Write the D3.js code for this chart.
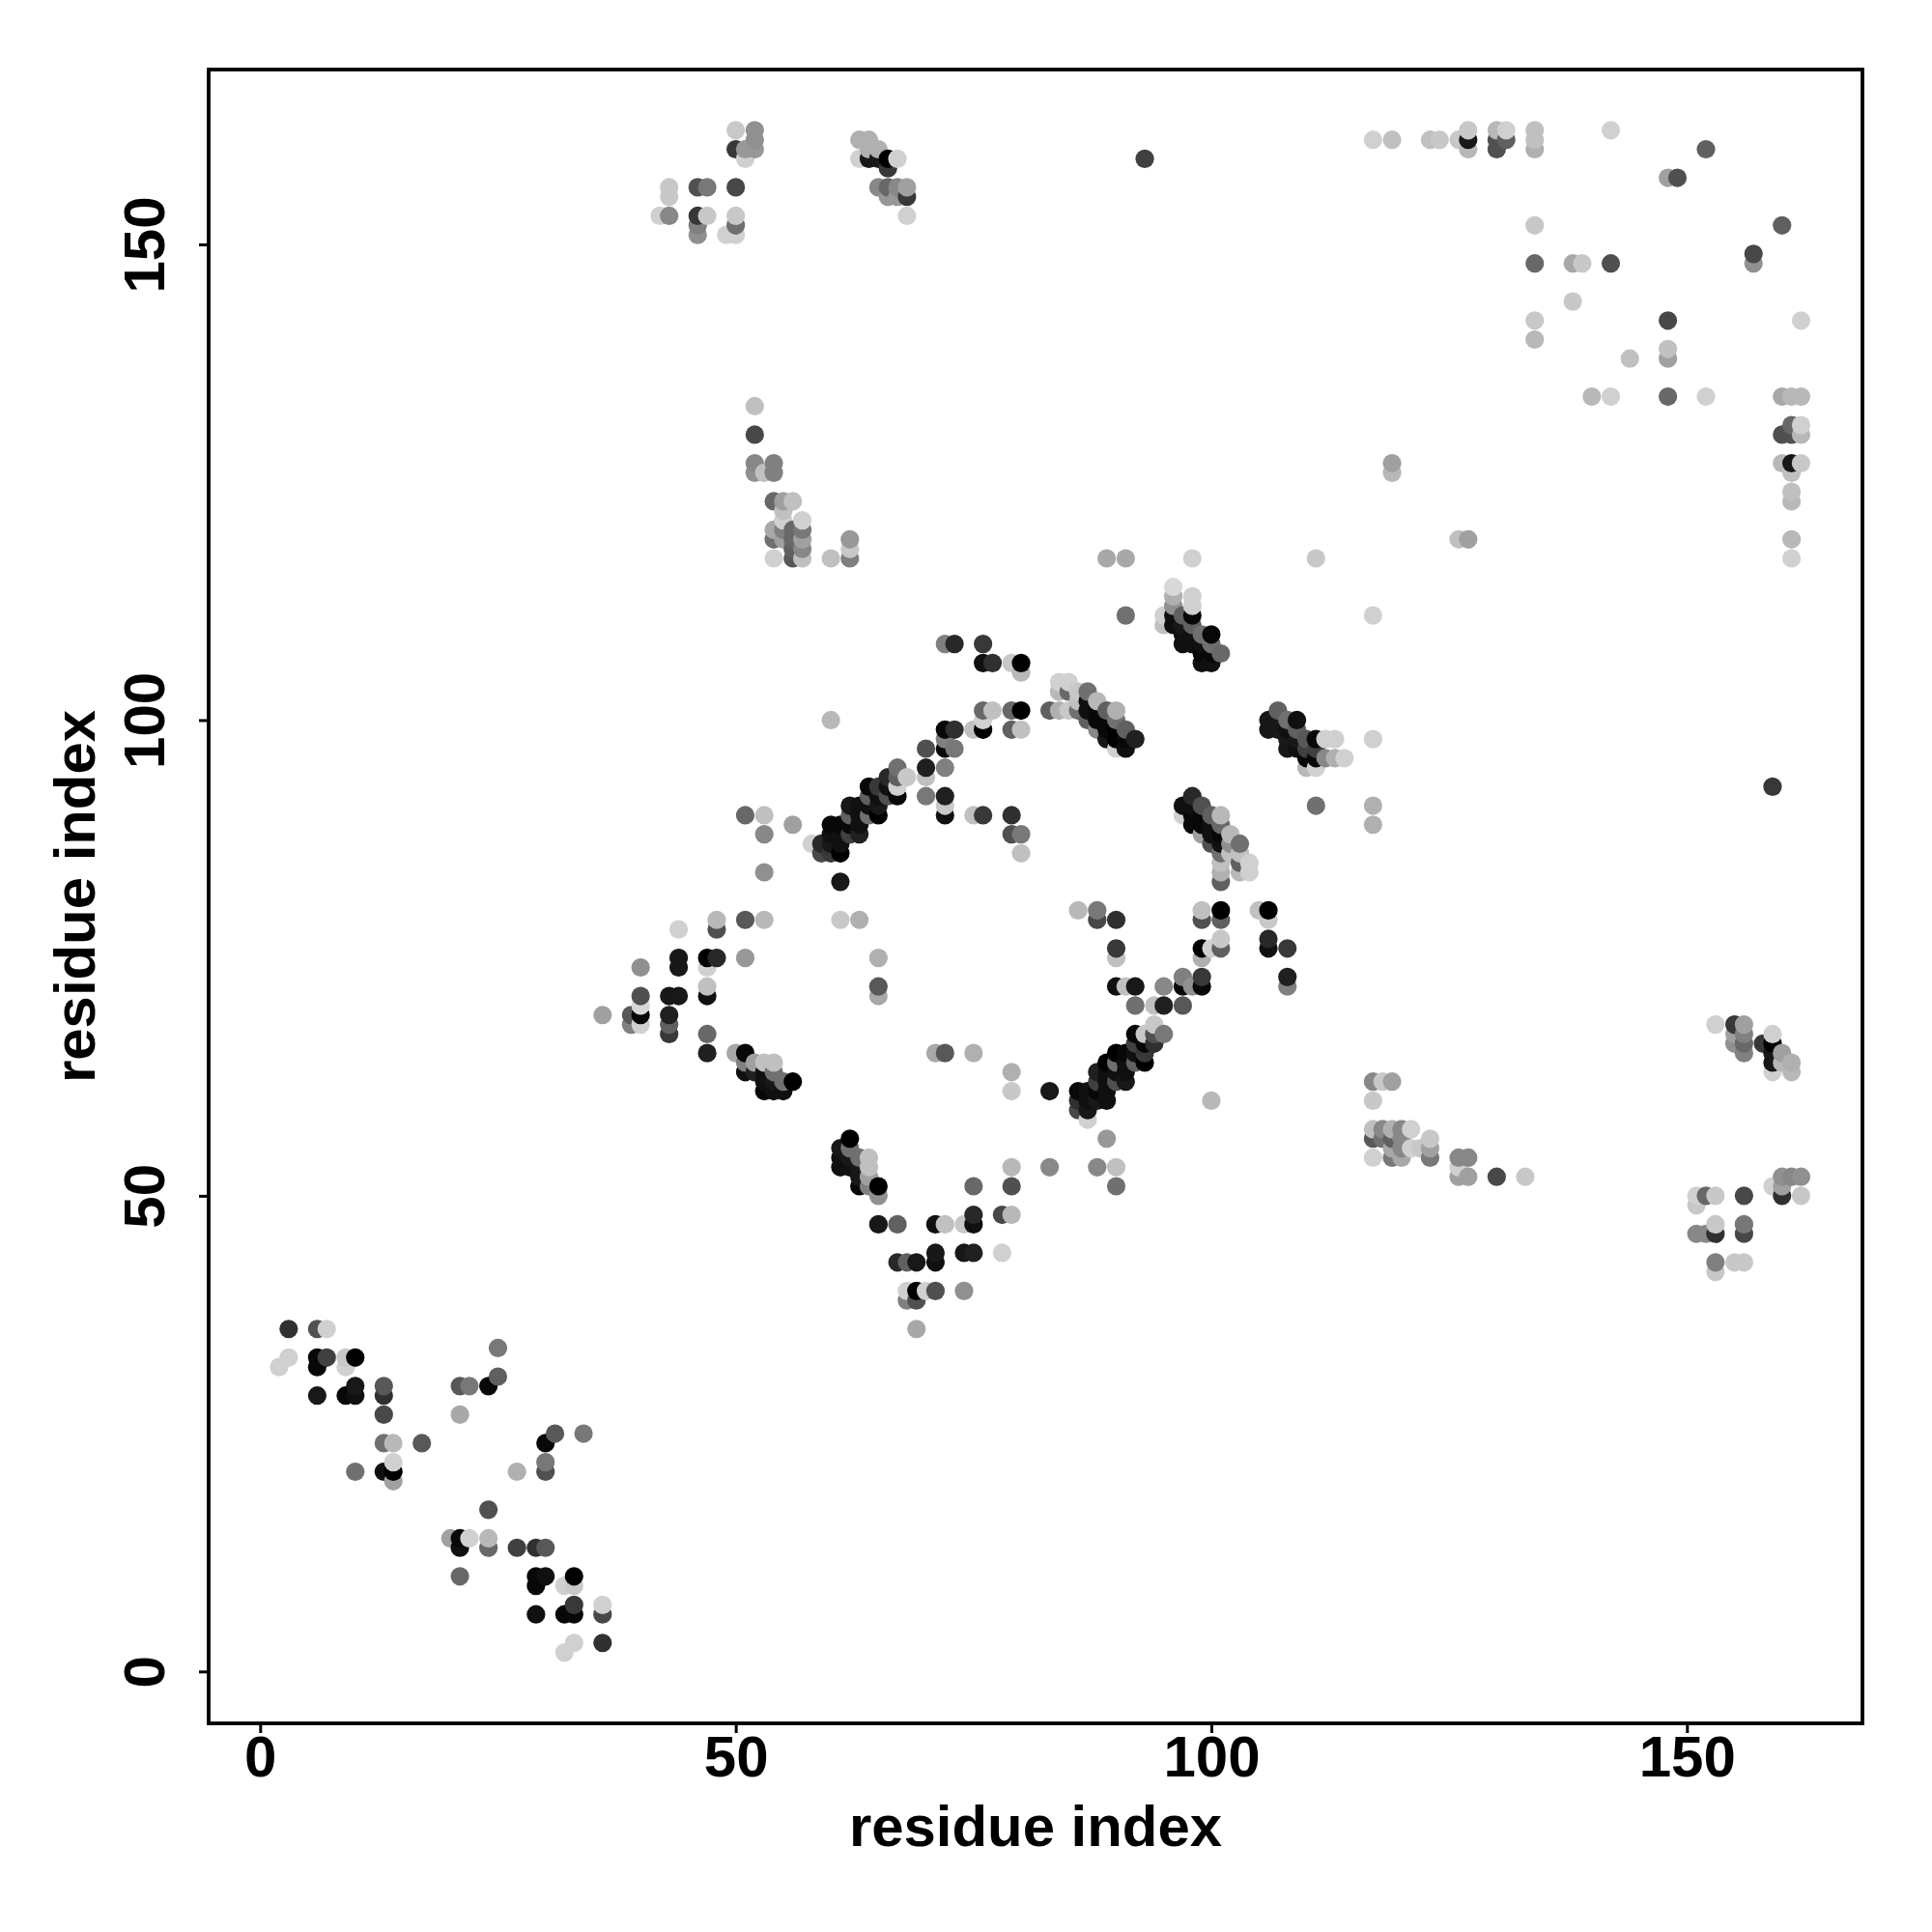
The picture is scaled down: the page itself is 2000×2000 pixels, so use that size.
<!DOCTYPE html>
<html><head><meta charset="utf-8">
<script src="https://cdn.jsdelivr.net/npm/d3@7"></script>
<style>html,body{margin:0;padding:0;background:#fff}svg{display:block}</style>
</head><body><div id="chart"></div>
<script>
const tickLabels = [0, 50, 100, 150];
const axisTitle = "residue index";
// each contact: [residue x, residue y, shade 0 (black) .. 255 (white)]
const nTerminal = [
[3,36,0x30],[6,36,0x50],[7,36,0xd0],[3,33,0xd0],[2,32,0xd0],[6,33,0x08],[6,32,0x08],[7,33,0x40],[9,33,0xc8],[9,32,0xd0],[10,33,0x00],
[6,29,0x18],[9,29,0x08],[10,30,0x18],[10,29,0x10],[13,30,0x58],[13,29,0x30],[13,27,0x48],[13,24,0x70],[14,24,0xb8],[17,24,0x58],
[10,21,0x70],[13,21,0x10],[14,21,0x00],[14,22,0xd0],[14,20,0xa0],[25,34,0x78],[25,31,0x60],[24,30,0x08],[21,30,0x58],[22,30,0x78],[21,27,0xa8],
[31,25,0x58],[30,24,0x08],[34,25,0x78],[30,22,0x78],[30,21,0x50],[27,21,0xb0],[24,17,0x50],
[20,14,0xa0],[21,14,0x08],[21,13,0x10],[22,14,0xd0],[24,14,0xb8],[24,13,0x68],[27,13,0x40],[29,13,0x30],[30,13,0x58],[21,10,0x68],
[29,10,0x08],[30,10,0x10],[29,9,0x08],[32,9,0xd0],[33,9,0xc8],[33,10,0x00],[29,6,0x10],[32,6,0x08],[33,6,0x08],[33,7,0x38],[36,6,0x48],[36,7,0xd0],
[33,3,0xd0],[32,2,0xd0],[36,3,0x30]];
const leftArc = [
[48,79,0xb8],[48,78,0x50],[51,79,0x58],[53,79,0xb8],[61,79,0xc8],[63,79,0xb0],[44,78,0xd0],[44,75,0x18],[44,74,0x18],[47,75,0x00],[48,75,0x28],[47,74,0xd0],[51,75,0x98],[65,75,0xb0],
[40,74,0x90],[40,71,0x50],[43,71,0x18],[44,71,0x18],[47,72,0xc0],[47,71,0x10],[65,72,0x58],[65,71,0xa8],[40,70,0xd8],[36,69,0xa0],[39,69,0x58],[40,69,0x08],[39,68,0x80],[40,68,0xd0],
[43,69,0x20],[43,68,0x60],[43,67,0x38],[47,67,0x68],[47,65,0x20],[50,65,0xa8],[51,65,0x08],[51,64,0x80],[51,63,0x10],[52,64,0xa0],[52,63,0x20],
[53,64,0xc0],[53,63,0x10],[53,62,0x10],[53,61,0x08],[54,64,0xc0],[54,63,0x70],[54,62,0x18],[54,61,0x10],[55,62,0x70],[55,61,0x10],[56,62,0x00],
[71,65,0xa8],[72,65,0x58],[75,65,0xb0]];
const lowerArc = [
[62,56,0x00],[61,55,0x18],[61,54,0x10],[61,53,0x10],[62,55,0x70],[62,54,0x18],[62,53,0x10],[63,54,0x70],[63,53,0x18],[63,52,0x18],[63,51,0x08],
[64,54,0xc0],[64,53,0xc0],[64,52,0xa0],[64,51,0x80],[65,51,0x00],[65,50,0x90],[65,47,0x18],[67,47,0x60],[71,47,0x10],[72,47,0xc0],[74,47,0xc8],[75,48,0x28],[75,47,0x10],[75,51,0x68],
[67,43,0x28],[68,43,0x60],[69,43,0x18],[71,44,0x18],[71,43,0x10],[74,44,0x18],[75,44,0x20],[68,40,0xd0],[69,40,0x00],[70,40,0xd0],[71,40,0x50],[74,40,0x90],[68,39,0x80],[69,39,0x50],[69,36,0xa8],
[78,44,0xd0],[78,48,0x48],[79,48,0xb8],[79,51,0x50],[79,53,0xb8],[83,53,0x88],[88,53,0x88],[90,53,0xc0],[90,51,0x70],[89,56,0x98]];
const upperArc = [
[72,108,0x80],[73,108,0x28],[76,108,0x38],[76,106,0x10],[77,106,0x30],[79,106,0xc8],[80,106,0x00],[80,105,0xb8],[84,104,0xd0],[85,104,0xd0],[84,103,0xb8],[85,103,0x68],[86,103,0xc8],[87,103,0x70],[88,102,0xb8],
[86,102,0xc0],[76,101,0x68],[77,101,0xc0],[79,101,0x68],[80,101,0x00],[83,101,0x60],[84,101,0xb0],[85,101,0xc8],[86,101,0x70],[89,101,0x60],[90,101,0xb0],
[87,102,0x10],[87,101,0x10],[87,100,0x60],[88,101,0x08],[88,100,0x08],[88,99,0x88],[89,100,0x08],[89,99,0x08],[89,98,0x18],[90,100,0x70],[90,99,0x00],[90,98,0x00],[91,99,0x60],[91,98,0x08],[91,97,0x10],[92,98,0x20],[90,97,0xd0],
[60,100,0xb8],[72,99,0x08],[73,99,0x30],[75,99,0xc0],[76,99,0x00],[76,100,0xd0],[79,99,0x60],[80,99,0xc0],[72,98,0x80],[72,97,0x08],[73,97,0x78],[70,97,0x50],[70,95,0x20],[72,95,0x80],[70,94,0xc0],[70,92,0x78],[72,92,0x20],[72,91,0xc8],[72,90,0x10],[75,90,0xc0],[76,90,0x38],[79,90,0x30],[79,88,0x50],[80,88,0x78],[80,86,0xc0],
[56,89,0xa0],[58,87,0xd0],[51,90,0x68],[53,90,0xc0],[53,88,0x88],[53,84,0x90],
[59,87,0x28],[59,86,0x48],[60,89,0x08],[60,88,0x10],[60,87,0x18],[60,86,0x38],[61,89,0x08],[61,88,0x10],[61,87,0x10],[61,86,0x00],
[62,91,0x18],[62,90,0x60],[62,89,0x08],[62,88,0x40],[63,91,0x10],[63,90,0x10],[63,89,0x10],[63,88,0x20],
[64,93,0x08],[64,92,0x60],[64,91,0x10],[64,90,0x70],[65,93,0x38],[65,92,0x10],[65,91,0x18],[65,90,0x00],
[66,94,0x28],[66,93,0x10],[66,92,0x50],[67,95,0x70],[67,94,0x60],[67,93,0xd0],[67,92,0x08],[68,94,0xc8],[61,83,0x18]];
const rightArc = [
[86,80,0xb8],[88,80,0x78],[88,79,0x48],[90,79,0x30],[99,80,0xc0],[99,79,0x50],[101,80,0x00],[101,79,0x60],[105,80,0xc0],[106,80,0x00],[106,79,0xc8],
[90,76,0x38],[90,75,0xc0],[99,76,0x00],[99,75,0xb0],[100,76,0xd0],[101,76,0x60],[101,77,0xc8],[106,77,0x28],[106,76,0x10],[108,76,0x38],
[97,73,0x80],[99,73,0x38],[97,72,0x08],[98,72,0x90],[99,72,0x08],[108,73,0x20],[108,72,0x80],[90,72,0x10],[91,72,0xc0],[92,72,0x18],[95,72,0x88],
[92,70,0x70],[94,70,0xc0],[95,70,0x20],[97,70,0x58],[94,68,0xc8],[95,67,0x78],[94,67,0x50],[93,67,0xc8],[92,67,0x08],
[86,61,0x08],[86,60,0x30],[86,59,0x48],[87,61,0x10],[87,60,0x10],[87,59,0x18],[87,58,0xd0],[88,63,0x20],[88,62,0x40],[88,61,0x08],[88,60,0x18],
[89,64,0x00],[89,63,0x10],[89,62,0x10],[89,61,0x10],[89,60,0x10],[90,65,0x00],[90,64,0x70],[90,63,0x10],[90,62,0x50],
[91,65,0x08],[91,64,0x10],[91,63,0x10],[91,62,0x18],[92,66,0x40],[92,65,0x10],[92,64,0x60],[93,66,0x08],[93,65,0x38],[93,64,0x00],[94,66,0x30],
[79,63,0xb0],[79,61,0xc8],[83,61,0x18],[100,60,0xb8]];
const helixBands = [
[89,117,0xa8],[91,117,0xa8],[98,117,0xd0],[111,117,0xc8],[91,111,0x70],[117,111,0xd0],
[96,114,0xd8],[96,113,0xb0],[96,112,0x90],[95,111,0xd0],[95,110,0xc0],[98,113,0xd0],[98,112,0xd0],[98,111,0x08],[96,111,0x10],[96,110,0x10],
[97,111,0x60],[97,110,0x18],[97,109,0x10],[97,108,0x10],[98,110,0x60],[98,109,0x10],[98,108,0x10],[99,109,0x70],[99,108,0x10],[99,107,0x08],[99,106,0x10],[100,109,0x08],[100,108,0x70],[100,107,0x08],[100,106,0x10],[101,107,0x68],
[98,92,0x28],[97,91,0x10],[98,91,0x10],[99,91,0x50],[97,90,0xd0],[98,90,0x08],[99,90,0x08],[100,90,0x60],[101,90,0xb8],[98,89,0x08],[99,89,0x08],[100,89,0x10],[101,89,0x68],
[99,88,0xa0],[100,88,0x10],[101,88,0x08],[102,88,0xb8],[100,87,0x50],[101,87,0x10],[102,87,0x90],[103,87,0x70],[101,86,0x70],[102,86,0xc0],[103,86,0xc0],[104,85,0xd0],[101,85,0xc0],[101,84,0xb0],[101,83,0x60],[103,85,0x60],[103,84,0xb8],[104,84,0xd0],
[107,101,0x60],[106,100,0x18],[106,99,0x18],[107,100,0x18],[107,99,0x18],[108,100,0x70],[108,99,0x10],[108,98,0x18],[108,97,0x18],[109,100,0x10],[109,99,0x60],[109,98,0x18],[109,97,0x10],
[110,98,0x58],[110,97,0x40],[110,96,0x08],[110,95,0xb8],[111,98,0x08],[111,97,0x40],[111,96,0x08],[111,95,0xd0],[112,98,0xd0],[112,96,0x88],[113,98,0xd0],[113,96,0xb0],[114,96,0xd0],
[117,98,0xd0],[111,91,0x70],[117,91,0xb0],[117,89,0xb0]];
const topMiddle = [
[50,162,0xc8],[52,162,0x90],[52,161,0x90],[50,160,0x38],[51,160,0x98],[52,160,0x98],[51,159,0xd0],
[63,161,0xb0],[64,161,0xb0],[63,159,0xd0],[64,159,0x18],[64,160,0xb0],[65,160,0xb0],[65,159,0x18],[66,159,0x00],[67,159,0xd0],[66,158,0x38],
[65,156,0x88],[66,156,0x68],[67,156,0x88],[68,156,0xa0],[68,155,0x38],[66,155,0x98],[67,155,0x98],[68,153,0xd0],
[43,156,0xc8],[43,155,0xc8],[46,156,0x50],[47,156,0x78],[50,156,0x48],[42,153,0xd0],[43,153,0x88],[46,153,0x38],[47,153,0xc8],[46,152,0x80],[46,151,0x90],[50,153,0xc8],[50,152,0x70],[49,151,0xd0],[50,151,0xd0],[93,159,0x40],
[52,133,0xc0],[52,130,0x48],[52,127,0x88],[52,126,0x90],[53,126,0xc0],[54,127,0x80],[54,126,0x80],[54,123,0x68],[55,123,0xa0],[56,123,0xc0],[55,122,0xc0],[55,121,0xd0],[57,121,0xd0],
[54,120,0xa8],[54,119,0x70],[55,120,0x80],[55,119,0xa0],[56,120,0x68],[56,119,0x68],[56,118,0x60],[56,117,0x58],[57,120,0x78],[57,119,0xa0],[57,118,0x88],[57,117,0xc0],[54,117,0xd0],[60,117,0xc0],[62,119,0x98],[62,118,0xc8],[62,117,0x80]];
const topRight = [
[117,161,0xd0],[119,161,0xc0],[123,161,0xc0],[124,161,0xc8],[126,161,0xc8],[127,162,0xc8],[127,161,0x18],[127,160,0xb8],[130,162,0xb8],[131,162,0xd0],[130,161,0x50],[131,161,0x60],[130,160,0x50],[134,162,0xc0],[134,161,0xc0],[134,160,0xb0],
[142,162,0xd0],[152,160,0x60],[148,157,0xa0],[149,157,0x50],[134,152,0xc8],[160,152,0x60],[157,149,0x48],[157,148,0x90],[134,148,0x68],[138,148,0xa8],[139,148,0xc8],[142,148,0x50],
[138,144,0xc8],[134,142,0xc8],[148,142,0x48],[162,142,0xd0],[134,140,0xb8],[144,138,0xc0],[148,139,0xc0],[148,138,0xa0],
[140,134,0xb8],[142,134,0xd0],[148,134,0x68],[152,134,0xd0],[160,134,0xa8],[161,134,0xb8],[162,134,0xb8],[161,131,0x68],[162,131,0xd0],[160,130,0x50],[161,130,0x50],[162,130,0xb8],
[160,127,0xb8],[161,127,0x18],[162,127,0xc8],[161,126,0xc0],[161,124,0xc0],[161,123,0xb8],[161,119,0xb8],[161,117,0xd0],[119,127,0xa0],[119,126,0xb8],[126,119,0xc0],[127,119,0xa0],[159,93,0x38]];
const lowerRight = [
[153,68,0xd0],[155,68,0x38],[156,68,0xa0],[155,67,0xa0],[155,66,0x90],[156,67,0x80],[156,66,0x68],[156,65,0x80],[158,66,0x38],[159,66,0x00],[159,67,0xd0],[159,65,0x18],[159,64,0x18],[159,63,0xd0],[160,65,0xa0],[160,64,0xb8],[161,64,0xb0],[161,63,0xb8],
[117,62,0x88],[118,62,0xc8],[119,62,0xa0],[117,60,0xc8],[117,57,0xc0],[118,57,0x88],[119,57,0xb0],[120,57,0x88],[121,57,0xd0],[117,56,0x58],[118,56,0x70],[119,56,0x60],[120,56,0x88],[121,55,0xd0],[120,55,0x88],[119,55,0xa8],
[123,56,0xc8],[122,55,0xc8],[123,55,0xa0],[123,54,0x78],[117,54,0xd0],[119,54,0x78],[120,54,0xa8],[126,54,0x88],[127,54,0x88],[126,53,0xd0],[126,52,0xa0],[127,52,0xa0],[130,52,0x48],[133,52,0xc8],
[160,52,0x90],[161,52,0x88],[162,52,0x90],[159,51,0xd0],[160,51,0xa0],[160,50,0x30],[162,50,0xc8],[151,50,0xd0],[152,50,0x68],[153,50,0xc8],[151,49,0xc8],[156,50,0x48],
[153,47,0xc8],[156,47,0x78],[151,46,0x88],[152,46,0x88],[153,46,0x30],[156,46,0x48],[153,43,0x80],[153,42,0xc8],[155,43,0xc8],[156,43,0xc8]];

const contacts = [].concat(nTerminal,leftArc,lowerArc,upperArc,rightArc,helixBands,topMiddle,topRight,lowerRight)
  .slice().sort((a,b)=>d3.ascending(a[0],b[0])||d3.ascending(a[1],b[1]));

const W=2000,H=2000,L=216,R=1928,T=72,B=1784;
const x=d3.scaleLinear().domain([0,150]).range([269.3,1746.3]);
const y=d3.scaleLinear().domain([0,150]).range([1730.3,253]);
const shade=d3.scaleLinear().domain([0,255]).range(["#000","#fff"]);
const svg=d3.select("#chart").append("svg").attr("width",W).attr("height",H).attr("viewBox",`0 0 ${W} ${H}`);
svg.append("rect").attr("width",W).attr("height",H).attr("fill","#fff");
svg.append("g").selectAll("circle").data(contacts).join("circle")
  .attr("cx",d=>x(d[0])).attr("cy",d=>y(d[1])).attr("r",9.6).attr("fill",d=>shade(d[2]));
svg.append("rect").attr("x",L).attr("y",T).attr("width",R-L).attr("height",B-T).attr("fill","none").attr("stroke","#000").attr("stroke-width",3.8);
const font="'Liberation Sans',Arial,sans-serif";
const gx=svg.append("g").attr("transform",`translate(0,${B})`).call(d3.axisBottom(x).tickValues(tickLabels).tickSize(10).tickPadding(0));
const gy=svg.append("g").attr("transform",`translate(${L},0)`).call(d3.axisLeft(y).tickValues(tickLabels).tickSize(10).tickPadding(0));
[gx,gy].forEach(g=>{g.select(".domain").remove();g.selectAll("line").attr("stroke","#000").attr("stroke-width",3);
 g.selectAll("text").attr("fill","#000").attr("font-family",font).attr("font-weight","bold").attr("font-size",60);});
gx.selectAll("text").attr("dy",null).attr("y",55).attr("text-anchor","middle");
gy.selectAll("text").attr("dy",null).attr("x",null).attr("y",null).attr("text-anchor","middle").attr("transform","translate(-46,0) rotate(-90)");
const title=(sel)=>sel.attr("fill","#000").attr("font-family",font).attr("font-weight","bold").attr("font-size",59.9).attr("text-anchor","middle").text(axisTitle);
svg.append("text").attr("x",1072).attr("y",1911).call(title);
svg.append("text").attr("transform","translate(98,928) rotate(-90)").call(title);
</script></body></html>
